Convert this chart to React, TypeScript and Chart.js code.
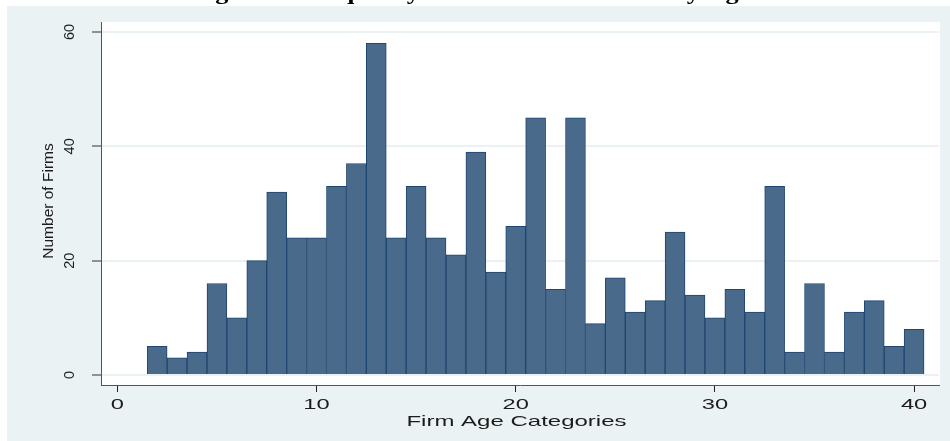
import React, { useEffect, useRef } from "react";
import { Chart, registerables } from "chart.js";

Chart.register(...registerables);

const ages: number[] = [2, 3, 4, 5, 6, 7, 8, 9, 10, 11, 12, 13, 14, 15, 16, 17, 18, 19, 20, 21, 22, 23, 24, 25, 26, 27, 28, 29, 30, 31, 32, 33, 34, 35, 36, 37, 38, 39, 40];
const firmCounts: number[] = [5, 3, 4, 16, 10, 20, 32, 24, 24, 33, 37, 58, 24, 33, 24, 21, 39, 18, 26, 45, 15, 45, 9, 17, 11, 13, 25, 14, 10, 15, 11, 33, 4, 16, 4, 11, 13, 5, 8];
const xTickValues: number[] = [0, 10, 20, 30, 40];
const yTickValues: number[] = [0, 20, 40, 60];
const titleText = "Figure 1: Frequency Distribution of Firms by Age";
const xTitle = "Firm Age Categories";
const yTitle = "Number of Firms";

const BG = "#eaf2f3";
const TEXT = "#1c1c1c";

const decorPlugin = {
  id: "decor",
  beforeDraw(chart: any) {
    const { ctx, chartArea } = chart;
    ctx.save();
    ctx.fillStyle = "#ffffff";
    ctx.fillRect(0, 0, chart.width, chart.height);
    ctx.fillStyle = BG;
    ctx.fillRect(7, 6, chart.width - 7, chart.height - 6);
    ctx.fillStyle = "#ffffff";
    ctx.fillRect(chartArea.left, chartArea.top, chartArea.right - chartArea.left + 1, chartArea.bottom - chartArea.top);
    ctx.restore();
  },
  afterDraw(chart: any) {
    const { ctx, chartArea } = chart;
    const xs = chart.scales.x;
    const ys = chart.scales.y;
    ctx.save();
    ctx.fillStyle = TEXT;

    // x tick labels (horizontally stretched)
    const sx = 1.58;
    ctx.font = '15px "Liberation Sans", Arial, sans-serif';
    ctx.textAlign = "center";
    ctx.textBaseline = "alphabetic";
    xTickValues.forEach((v) => {
      const px = xs.getPixelForValue(v);
      ctx.save();
      ctx.translate(px, 408.5);
      ctx.scale(sx, 1);
      ctx.fillText(String(v), 0, 0);
      ctx.restore();
    });

    // x title
    ctx.save();
    ctx.translate((chartArea.left + chartArea.right) / 2 - 3.5, 425.5);
    ctx.scale(1.6, 1);
    ctx.font = '15px "Liberation Sans", Arial, sans-serif';
    ctx.fillText(xTitle, 0, 0);
    ctx.restore();

    // y tick labels (rotated)
    ctx.font = '14.5px "Liberation Sans", Arial, sans-serif';
    yTickValues.forEach((v) => {
      const py = ys.getPixelForValue(v);
      ctx.save();
      ctx.translate(73.5, py);
      ctx.rotate(-Math.PI / 2);
      ctx.textAlign = "center";
      ctx.fillText(String(v), 0, 0);
      ctx.restore();
    });

    // y title
    ctx.save();
    ctx.translate(52.5, 201);
    ctx.rotate(-Math.PI / 2);
    ctx.textAlign = "center";
    ctx.font = '15.5px "Liberation Sans", Arial, sans-serif';
    ctx.fillText(yTitle, 0, 0);
    ctx.restore();

    // clipped title at the very top (only descenders show)
    ctx.save();
    ctx.beginPath();
    ctx.rect(0, 0, chart.width, 6);
    ctx.clip();
    ctx.font = 'bold 21px "Liberation Serif", "Times New Roman", serif';
    ctx.textAlign = "left";
    ctx.textBaseline = "alphabetic";
    const ts = 1.25;
    const pre = ctx.measureText("Figure 1: Fre").width * ts;
    const qw = ctx.measureText("q").width * ts;
    const x0 = 347 - pre - qw / 2;
    ctx.translate(x0, -1.5);
    ctx.scale(ts, 1);
    ctx.fillStyle = "#000000";
    ctx.fillText(titleText, 0, 0);
    ctx.restore();

    ctx.restore();
  },
};

export default function App() {
  const canvasRef = useRef<HTMLCanvasElement | null>(null);

  useEffect(() => {
    const canvas = canvasRef.current;
    if (!canvas) return;
    const chart = new Chart(canvas, {
      type: "bar",
      data: {
        datasets: [
          {
            data: ages.map((a, i) => ({ x: a, y: firmCounts[i] })),
            backgroundColor: "rgb(73,106,139)",
            borderColor: "rgb(30,70,112)",
            borderWidth: 1,
            barPercentage: 1,
            categoryPercentage: 1,
          } as any,
        ],
      },
      options: {
        responsive: false,
        animation: false,
        devicePixelRatio: 1,
        layout: { padding: { left: 0, top: 22, right: 11, bottom: 0 } },
        plugins: { legend: { display: false }, tooltip: { enabled: false }, title: { display: false } },
        scales: {
          x: {
            type: "linear",
            min: -0.82,
            max: 41.25,
            offset: false,
            afterBuildTicks: (s: any) => {
              s.ticks = xTickValues.map((v) => ({ value: v }));
            },
            afterFit: (s: any) => {
              s.height = 56;
            },
            ticks: { display: false },
            grid: { drawOnChartArea: false, drawTicks: true, tickLength: 7, tickColor: "#222", offset: false },
            border: { display: true, color: "#555", width: 1 },
          },
          y: {
            type: "linear",
            min: -1.75,
            max: 61.75,
            afterBuildTicks: (s: any) => {
              s.ticks = yTickValues.map((v) => ({ value: v }));
            },
            afterFit: (s: any) => {
              s.width = 101;
            },
            ticks: { display: false },
            grid: { color: BG, lineWidth: 2, drawTicks: true, tickLength: 9, tickColor: "#333", tickWidth: 1 },
            border: { display: true, color: "#555", width: 1 },
          },
        },
      } as any,
      plugins: [decorPlugin],
    });
    return () => chart.destroy();
  }, []);

  return (
    <div style={{ position: "absolute", left: 0, top: 0, width: 950, height: 441, overflow: "hidden" }}>
      <canvas ref={canvasRef} width={950} height={441} style={{ display: "block", width: 950, height: 441 }} />
    </div>
  );
}
